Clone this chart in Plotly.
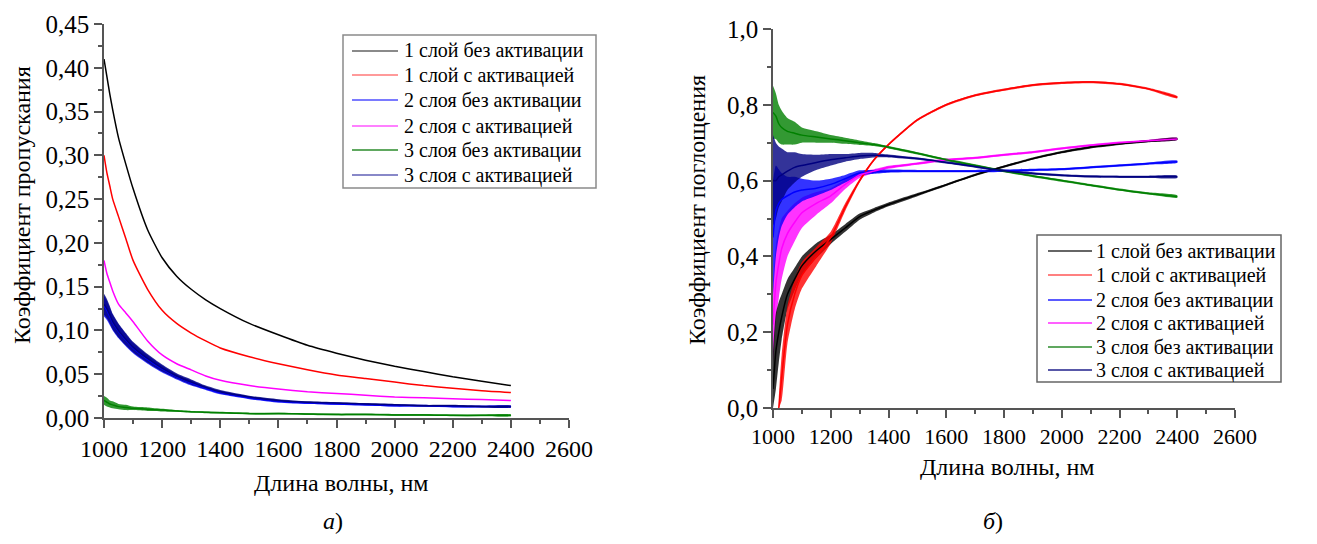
import plotly.graph_objects as go

# ---------------- data ----------------
wavelength = [1000, 1010, 1020, 1030, 1050, 1075, 1100, 1150, 1200, 1250, 1300, 1350,
              1400, 1500, 1600, 1700, 1800, 1900, 2000, 2100, 2200, 2300, 2400]

series_names = ["1 слой без активации", "1 слой с активацией", "2 слоя без активации",
                "2 слоя с активацией", "3 слоя без активации", "3 слоя с активацией"]

# (a) transmission coefficient
trans_1_no = [0.41, 0.39, 0.37, 0.352, 0.32, 0.29, 0.262, 0.215, 0.183, 0.162, 0.147, 0.135,
              0.125, 0.108, 0.095, 0.083, 0.074, 0.066, 0.059, 0.053, 0.047, 0.042, 0.037]
trans_1_act = [0.30, 0.28, 0.265, 0.25, 0.23, 0.205, 0.18, 0.147, 0.123, 0.108, 0.097, 0.088,
               0.080, 0.070, 0.062, 0.055, 0.049, 0.045, 0.041, 0.037, 0.034, 0.031, 0.029]
trans_2_no = [0.128, 0.123, 0.116, 0.109, 0.099, 0.089, 0.080, 0.067, 0.056, 0.047, 0.040, 0.034,
              0.029, 0.023, 0.019, 0.017, 0.016, 0.015, 0.014, 0.014, 0.013, 0.013, 0.013]
trans_2_act = [0.18, 0.165, 0.155, 0.145, 0.13, 0.12, 0.11, 0.088, 0.072, 0.062, 0.055, 0.048,
               0.043, 0.037, 0.033, 0.030, 0.028, 0.026, 0.024, 0.023, 0.022, 0.021, 0.020]
trans_3_no = [0.02, 0.018, 0.016, 0.015, 0.013, 0.012, 0.011, 0.010, 0.009, 0.008, 0.007, 0.0065,
              0.006, 0.005, 0.005, 0.0045, 0.004, 0.004, 0.0035, 0.0035, 0.003, 0.003, 0.003]
trans_3_act = [0.13, 0.125, 0.118, 0.11, 0.10, 0.09, 0.081, 0.068, 0.057, 0.048, 0.041, 0.035,
               0.030, 0.024, 0.020, 0.018, 0.017, 0.016, 0.015, 0.014, 0.014, 0.013, 0.013]
# half-width of the noisy band
trans_noise_3_act = [0.012, 0.011, 0.010, 0.009, 0.008, 0.007, 0.006, 0.005, 0.004, 0.003, 0.003, 0.002,
                     0.002, 0.0015, 0.0015, 0.001, 0.001, 0.001, 0.001, 0.001, 0.001, 0.001, 0.001]
trans_noise_3_no = [0.005, 0.005, 0.004, 0.004, 0.003, 0.003, 0.002, 0.002, 0.0015, 0.001, 0.001, 0.001,
                    0.001, 0.001, 0.001, 0.001, 0.001, 0.001, 0.001, 0.001, 0.001, 0.001, 0.001]

# (б) absorption coefficient
abs_1_no = [0.05, 0.15, 0.20, 0.24, 0.30, 0.34, 0.375, 0.415, 0.445, 0.475, 0.505, 0.522,
            0.537, 0.563, 0.589, 0.615, 0.637, 0.658, 0.675, 0.688, 0.697, 0.704, 0.71]
abs_1_act = [None, None, 0.0, 0.08, 0.22, 0.30, 0.35, 0.40, 0.45, 0.53, 0.60, 0.655,
             0.695, 0.76, 0.80, 0.825, 0.84, 0.852, 0.858, 0.86, 0.855, 0.842, 0.82]
abs_2_no = [0.45, 0.52, 0.54, 0.55, 0.56, 0.57, 0.575, 0.58, 0.59, 0.605, 0.62, 0.623,
            0.625, 0.625, 0.625, 0.625, 0.626, 0.628, 0.63, 0.635, 0.64, 0.645, 0.65]
abs_2_act = [0.22, 0.33, 0.38, 0.42, 0.46, 0.49, 0.515, 0.54, 0.56, 0.59, 0.615, 0.625,
             0.635, 0.645, 0.655, 0.66, 0.668, 0.675, 0.685, 0.693, 0.70, 0.705, 0.71]
abs_3_no = [0.78, 0.77, 0.75, 0.74, 0.73, 0.725, 0.72, 0.715, 0.71, 0.705, 0.70, 0.695,
            0.688, 0.672, 0.655, 0.64, 0.625, 0.612, 0.60, 0.588, 0.576, 0.566, 0.558]
abs_3_act = [0.60, 0.60, 0.61, 0.615, 0.625, 0.635, 0.64, 0.648, 0.655, 0.66, 0.665, 0.667,
             0.665, 0.658, 0.648, 0.637, 0.626, 0.619, 0.614, 0.611, 0.61, 0.61, 0.61]
abs_noise_1_no = [0.10, 0.10, 0.08, 0.06, 0.04, 0.03, 0.025, 0.02, 0.012, 0.01, 0.008, 0.006,
                  0.005, 0.004, 0.003, 0.003, 0.003, 0.003, 0.003, 0.003, 0.003, 0.003, 0.003]
abs_noise_1_act = [None, None, 0.03, 0.06, 0.05, 0.04, 0.035, 0.025, 0.015, 0.01, 0.005, 0.003,
                   0.003, 0.003, 0.003, 0.003, 0.003, 0.003, 0.003, 0.003, 0.003, 0.003, 0.003]
abs_noise_2_no = [0.15, 0.12, 0.09, 0.07, 0.05, 0.04, 0.03, 0.02, 0.015, 0.01, 0.007, 0.005,
                  0.004, 0.003, 0.003, 0.003, 0.003, 0.003, 0.003, 0.003, 0.003, 0.003, 0.003]
abs_noise_2_act = [0.10, 0.10, 0.09, 0.08, 0.06, 0.05, 0.04, 0.03, 0.02, 0.012, 0.008, 0.005,
                   0.004, 0.003, 0.003, 0.003, 0.003, 0.003, 0.003, 0.003, 0.003, 0.003, 0.003]
abs_noise_3_no = [0.07, 0.06, 0.05, 0.045, 0.035, 0.03, 0.02, 0.015, 0.01, 0.008, 0.006, 0.004,
                  0.003, 0.003, 0.003, 0.003, 0.003, 0.003, 0.003, 0.003, 0.003, 0.003, 0.003]
abs_noise_3_act = [0.12, 0.10, 0.08, 0.07, 0.05, 0.04, 0.03, 0.02, 0.015, 0.01, 0.008, 0.006,
                   0.004, 0.003, 0.003, 0.003, 0.003, 0.003, 0.003, 0.003, 0.003, 0.003, 0.003]

x_tickvals = [1000, 1200, 1400, 1600, 1800, 2000, 2200, 2400, 2600]
x_ticktext = ["1000", "1200", "1400", "1600", "1800", "2000", "2200", "2400", "2600"]
ya_tickvals = [0, 0.05, 0.10, 0.15, 0.20, 0.25, 0.30, 0.35, 0.40, 0.45]
ya_ticktext = ["0,00", "0,05", "0,10", "0,15", "0,20", "0,25", "0,30", "0,35", "0,40", "0,45"]
yb_tickvals = [0, 0.2, 0.4, 0.6, 0.8, 1.0]
yb_ticktext = ["0,0", "0,2", "0,4", "0,6", "0,8", "1,0"]

# ---------------- styling ----------------
FONT = "Liberation Serif"
col = {"1n": "#000000", "1a": "#ff0000", "2n": "#0000ff", "2a": "#ff00ff", "3n": "#008000", "3a": "#000080"}
keys = ["1n", "1a", "2n", "2a", "3n", "3a"]
legend_a_colors = ["#8a8a8a", "#ff9a9a", "#7a7aff", "#ff80ff", "#60a860", "#8888c8"]
legend_b_colors = ["#666666", "#ff8080", "#5a5aff", "#ff60ff", "#60a860", "#5858a8"]

# the page body has an 8px margin: the figure is placed at (8, 8)
OFF = 8
W, H = 1317 - 2 * OFF, 544 - 2 * OFF


def px(X):
    return (X - OFF) / W


def py(Y):
    return 1 - (Y - OFF) / H


fig = go.Figure()


def band(x, y, noise, color, xa, ya):
    pts = [(xx, yy, nn) for xx, yy, nn in zip(x, y, noise) if yy is not None and nn is not None]
    xs = [p[0] for p in pts]
    up = [p[1] + p[2] for p in pts]
    lo = [max(p[1] - p[2], 0) for p in pts]
    fig.add_trace(go.Scatter(x=xs + xs[::-1], y=up + lo[::-1], fill="toself", fillcolor=color,
                             line=dict(width=0, shape="spline", smoothing=0.6), mode="lines",
                             opacity=0.8, showlegend=False, hoverinfo="skip", xaxis=xa, yaxis=ya))


def line(x, y, color, name, xa, ya, width=1.5):
    fig.add_trace(go.Scatter(x=x, y=y, mode="lines", name=name, showlegend=False,
                             line=dict(color=color, width=width, shape="spline", smoothing=0.6),
                             xaxis=xa, yaxis=ya))


# left panel
trans = [trans_1_no, trans_1_act, trans_2_no, trans_2_act, trans_3_no, trans_3_act]
band(wavelength, trans_3_no, trans_noise_3_no, col["3n"], "x", "y")
band(wavelength, trans_2_no, trans_noise_3_act, col["2n"], "x", "y")
band(wavelength, trans_3_act, trans_noise_3_act, col["3a"], "x", "y")
for key, vals, nm in zip(keys, trans, series_names):
    line(wavelength, vals, col[key], nm, "x", "y")

# right panel
abs_vals = [abs_1_no, abs_1_act, abs_2_no, abs_2_act, abs_3_no, abs_3_act]
abs_noise = [abs_noise_1_no, abs_noise_1_act, abs_noise_2_no, abs_noise_2_act, abs_noise_3_no, abs_noise_3_act]
draw_order = [3, 2, 4, 5, 0, 1]
for i in draw_order:
    band(wavelength, abs_vals[i], abs_noise[i], col[keys[i]], "x2", "y2")
for i in range(6):
    line(wavelength, abs_vals[i], col[keys[i]], series_names[i], "x2", "y2")

# ---------------- legends (boxes, key lines, labels) ----------------
shapes = []
annotations = []


def legend_box(x0, x1, y0, y1, key_x0, key_x1, text_x, rows, colors, border):
    shapes.append(dict(type="rect", xref="paper", yref="paper", x0=px(x0), x1=px(x1), y0=py(y1), y1=py(y0),
                       line=dict(color=border, width=1.5), fillcolor="white", layer="above"))
    for r, c, nm in zip(rows, colors, series_names):
        shapes.append(dict(type="line", xref="paper", yref="paper", x0=px(key_x0), x1=px(key_x1),
                           y0=py(r), y1=py(r), line=dict(color=c, width=2), layer="above"))
        annotations.append(dict(text=nm, x=px(text_x), y=py(r), xref="paper", yref="paper",
                                xanchor="left", yanchor="middle", showarrow=False,
                                font=dict(family=FONT, size=20, color="black")))


legend_box(343, 596, 35, 188, 352, 398, 402, [51, 75, 100, 126, 150, 175], legend_a_colors, "#8a8a8a")
legend_box(1037, 1281, 235, 382, 1048, 1092, 1094, [251, 275, 300, 323, 347, 370], legend_b_colors, "#666666")


def label(text, X, Y, size, angle=0):
    annotations.append(dict(text=text, x=px(X), y=py(Y), xref="paper", yref="paper",
                            xanchor="center", yanchor="middle", textangle=angle, showarrow=False,
                            font=dict(family=FONT, size=size, color="black")))


label("Коэффициент пропускания", 22, 205, 24, -90)
label("Коэффициент поглощения", 697, 210, 24, -90)
label("Длина волны, нм", 341, 483, 24)
label("Длина волны, нм", 1007, 467, 24)
label("<i>а</i>)", 333, 521, 24)
label("<i>б</i>)", 993, 521, 24)

axis_common = dict(showline=True, linecolor="#555555", linewidth=1.5, ticks="outside", ticklen=8,
                   tickwidth=1.5, tickcolor="#555555", showgrid=False, zeroline=False, mirror=False,
                   automargin=False)
minor_x = dict(ticks="outside", ticklen=4, tickcolor="#555555", tick0=1000, dtick=100)

fig.update_layout(
    width=W, height=H,
    margin=dict(l=0, r=0, t=0, b=0, autoexpand=False),
    paper_bgcolor="white", plot_bgcolor="white",
    font=dict(family=FONT, color="black"),
    showlegend=False,
    xaxis=dict(**axis_common, domain=[px(104), px(569)], range=[1000, 2600], anchor="y",
               tickvals=x_tickvals, ticktext=x_ticktext, tickfont=dict(family=FONT, size=24),
               minor=minor_x),
    yaxis=dict(**axis_common, domain=[py(418), py(24)], range=[0, 0.45], anchor="x",
               tickvals=ya_tickvals, ticktext=ya_ticktext, tickfont=dict(family=FONT, size=25),
               minor=dict(ticks="outside", ticklen=4, tickcolor="#555555", tick0=0, dtick=0.025)),
    xaxis2=dict(**axis_common, domain=[px(773), px(1235)], range=[1000, 2600], anchor="y2",
                tickvals=x_tickvals, ticktext=x_ticktext, tickfont=dict(family=FONT, size=22),
                minor=minor_x),
    yaxis2=dict(**axis_common, domain=[py(408), py(29)], range=[0, 1.0], anchor="x2",
                tickvals=yb_tickvals, ticktext=yb_ticktext, tickfont=dict(family=FONT, size=25),
                minor=dict(ticks="outside", ticklen=4, tickcolor="#555555", tick0=0, dtick=0.1)),
    shapes=shapes,
    annotations=annotations,
)

fig.write_html("out.html")
